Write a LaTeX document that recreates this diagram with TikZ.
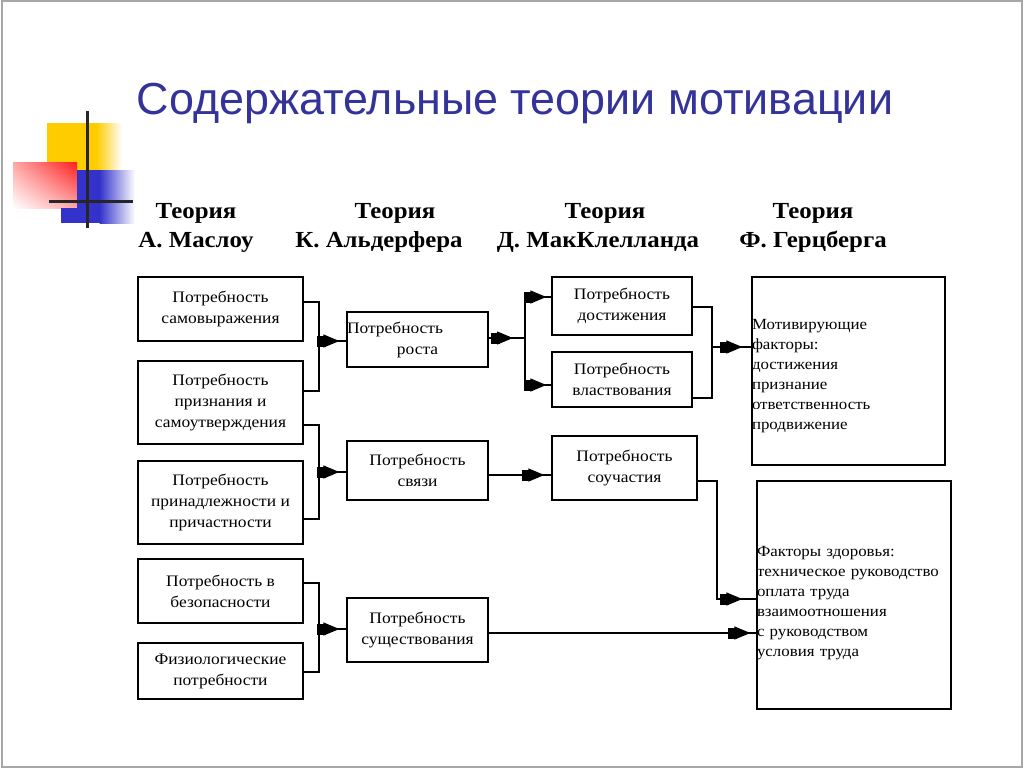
\documentclass[tikz,border=0pt]{standalone}
\usepackage{fontspec}
\usetikzlibrary{arrows.meta,decorations.markings,shadings}
\newfontfamily\tnr[FakeStretch=1.09]{Liberation Serif}
\newfontfamily\tnrh[FakeStretch=1.08]{Liberation Serif}
\newfontfamily\arialf{Liberation Sans}
\definecolor{titleblue}{RGB}{51,51,153}
\definecolor{decoyellow}{RGB}{255,204,0}
\definecolor{decored}{RGB}{255,30,30}
\definecolor{decoblue}{RGB}{51,51,204}
\begin{document}
\begin{tikzpicture}[x=1pt,y=-1pt,
  box/.style={draw, line width=1.3pt, inner sep=0pt, align=center, font=\tnr\fontsize{16}{21}\selectfont},
  conn/.style={line width=1.3pt},
  tipat/.style 2 args={postaction={decorate,decoration={markings,
     mark=at position #2 with {\arrow{Rectangle[length=9pt,width=11pt]}},
     mark=at position #1 with {\arrow{Triangle[length=16pt,width=13pt]}}}}},
  head/.style={align=center, font=\tnrh\bfseries\fontsize{23}{29}\selectfont},
  factors/.style={draw, line width=1.3pt, inner sep=0pt, align=left, font=\tnr\fontsize{15.5}{20}\selectfont}
]
\useasboundingbox (0,0) rectangle (1024,768);
\fill[white] (0,0) rectangle (1024,768);
\draw[gray!70, line width=2pt] (1.5,1.5) rectangle (1021.5,766.5);

% decoration
\fill[decoyellow] (47,123) rectangle (97,170);
\shade[left color=decoyellow, right color=white] (96.5,123) rectangle (122,170);
\shade[upper left=red!35, upper right=decored, lower left=white, lower right=red!35] (13,162) rectangle (77,208);
\fill[decoblue] (77,170) rectangle (100,223);
\fill[decoblue] (61,208) rectangle (77,223);
\shade[left color=decoblue, right color=white] (99.5,170) rectangle (135,223);
\draw[line width=3pt, black!85] (87,111) -- (87,228);
\draw[line width=3pt, black!85] (49,201) -- (133,201);

% title
\node[text=titleblue, font=\arialf] (title) at (515,103) {\resizebox{756pt}{!}{Содержательные теории мотивации}};

% headers
\node[head] (h1) at (196,228) {Теория\\А. Маслоу};
\node[head] (h2) at (379,228) {\hspace*{32pt}Теория\\К. Альдерфера};
\node[head] (h3) at (598,228) {\hspace*{14pt}Теория\\Д. МакКлелланда};
\node[head] (h4) at (813,228) {Теория\\Ф. Герцберга};

% column 1
\node[box, minimum width=165pt, minimum height=64pt] (B1) at (220.5,309) {Потребность\\самовыражения};
\node[box, minimum width=165pt, minimum height=83pt] (B2) at (220.5,402.5) {Потребность\\признания и\\самоутверждения};
\node[box, minimum width=165pt, minimum height=83pt] (B3) at (220.5,502.5) {Потребность\\принадлежности и\\причастности};
\node[box, minimum width=165pt, minimum height=64pt] (B4) at (220.5,591) {Потребность в\\безопасности};
\node[box, minimum width=165pt, minimum height=56pt] (B5) at (220.5,671) {Физиологические\\потребности};

% column 2
\node[box, minimum width=141pt, minimum height=55pt, text width=141pt, align=left] (R) at (417.5,339.5) {Потребность\\\makebox[141pt]{роста}};
\node[box, minimum width=141pt, minimum height=59pt] (C) at (417.5,470.5) {Потребность\\связи};
\node[box, minimum width=141pt, minimum height=64pt] (E) at (417.5,630) {Потребность\\существования};

% column 3
\node[box, minimum width=140pt, minimum height=58pt] (A) at (622,306) {Потребность\\достижения};
\node[box, minimum width=140pt, minimum height=55pt] (P) at (622,379.5) {Потребность\\властвования};
\node[box, minimum width=145pt, minimum height=64pt] (S) at (624.5,468) {Потребность\\соучастия};

% column 4
\node[factors, text width=193pt, minimum height=188pt] (M) at (848.5,371) {\rule{0pt}{20pt}Мотивирующие\\факторы:\\достижения\\признание\\ответственность\\продвижение};
\node[factors, text width=194pt, minimum height=228pt] (H) at (854,595) {\rule{0pt}{26pt}Факторы здоровья:\\техническое руководство\\оплата труда\\взаимоотношения\\с руководством\\условия труда};

% connectors column 1 -> 2
\coordinate (j1) at (319,341);
\coordinate (j2) at (319,472);
\coordinate (j3) at (319,629);
\draw[conn] (B1.east |- 0,302) -| (319,391) -- (B2.east |- 0,391);
\draw[conn,tipat={-7pt}{-20pt}] (j1) -- (R.west |- j1);
\draw[conn] (B2.east |- 0,425) -| (319,519) -- (B3.east |- 0,519);
\draw[conn,tipat={-7pt}{-20pt}] (j2) -- (C.west |- j2);
\draw[conn] (B4.east |- 0,583) -| (319,672) -- (B5.east |- 0,672);
\draw[conn,tipat={-7pt}{-20pt}] (j3) -- (E.west |- j3);

% column 2 -> 3
\coordinate (j4) at (525,338);
\coordinate (ja) at (525,297);
\coordinate (jp) at (525,385);
\draw[conn,tipat={-12pt}{-25pt}] (R.east |- j4) -- (j4);
\draw[conn] (ja) -- (jp);
\draw[conn,tipat={-5pt}{-18pt}] (ja) -- (A.west |- ja);
\draw[conn,tipat={-5pt}{-18pt}] (jp) -- (P.west |- jp);
\draw[conn,tipat={-7pt}{-20pt}] (C.east |- 0,475) -- (S.west |- 0,475);

% column 3 -> 4
\coordinate (j5) at (712,347);
\draw[conn] (A.east |- 0,307) -| (712,398) -- (P.east |- 0,398);
\draw[conn,tipat={-9pt}{-22pt}] (j5) -- (M.west |- j5);
\draw[conn,tipat={-14pt}{-27pt}] (S.east |- 0,481) -| (717,599) -- (H.west |- 0,599);
\draw[conn,tipat={-6pt}{-19pt}] (E.east |- 0,633) -- (H.west |- 0,633);
\end{tikzpicture}
\end{document}
